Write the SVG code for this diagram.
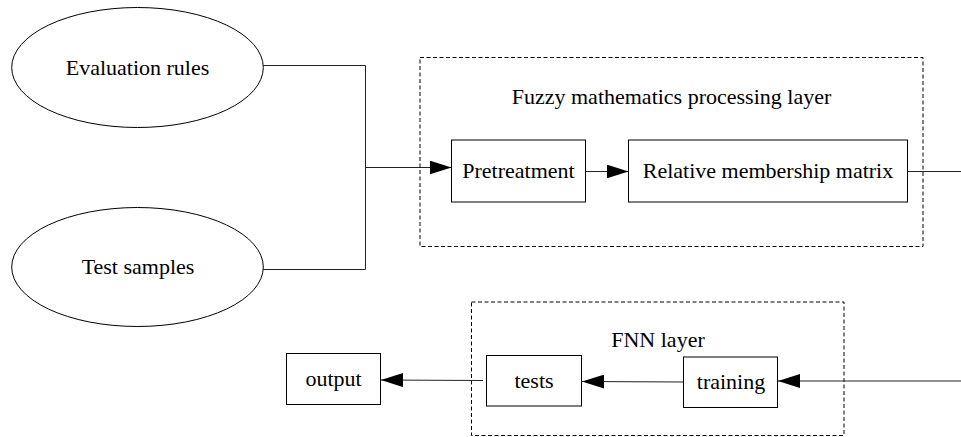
<svg xmlns="http://www.w3.org/2000/svg" width="961" height="437" viewBox="0 0 961 437">
<style>
  .node { fill: #fff; stroke: #000; stroke-width: 1; }
  .layer { fill: none; stroke: #000; stroke-width: 1; stroke-dasharray: 4 2.5; }
  .lbl { font-family: "Liberation Serif", "Times New Roman", serif; font-size: 22px; fill: #000; text-anchor: middle; }
  .conn { fill: none; stroke: #222; stroke-width: 1; }
  .arr { fill: none; stroke: #222; stroke-width: 1; marker-end: url(#ah); }
</style>
<defs>
  <marker id="ah" markerUnits="userSpaceOnUse" markerWidth="22" markerHeight="14" refX="22" refY="7" orient="auto">
    <path d="M0,0 L22,7 L0,14 Z" fill="#000"/>
  </marker>
</defs>
<rect width="961" height="437" fill="#fff"/>

<g id="layer-fuzzy">
  <rect class="layer" x="420" y="57.5" width="503" height="189"/>
  <text class="lbl" x="671.5" y="104">Fuzzy mathematics processing layer</text>
</g>
<g id="layer-fnn">
  <rect class="layer" x="471.5" y="302" width="372.5" height="133.5"/>
  <text class="lbl" x="658" y="347.3">FNN layer</text>
</g>

<g id="connectors">
  <polyline class="conn" points="263.3,65.5 365.5,65.5 365.5,269.5 263.3,269.5"/>
  <line class="arr" x1="365.5" y1="167.5" x2="451.5" y2="167.5"/>
  <line class="arr" x1="585.5" y1="171.5" x2="628.5" y2="171.5"/>
  <line class="conn" x1="907.5" y1="171.5" x2="961" y2="171.5"/>
  <line class="arr" x1="961" y1="381" x2="778" y2="381"/>
  <line class="arr" x1="683.5" y1="382" x2="582" y2="381.5"/>
  <line class="arr" x1="483" y1="380.5" x2="381" y2="380"/>
</g>

<g id="node-evaluation-rules">
  <ellipse class="node" cx="137.5" cy="67.5" rx="125.8" ry="60"/>
  <text class="lbl" x="137.5" y="75">Evaluation rules</text>
</g>
<g id="node-test-samples">
  <ellipse class="node" cx="137.5" cy="267" rx="125.8" ry="59.5"/>
  <text class="lbl" x="138" y="273.5">Test samples</text>
</g>
<g id="node-pretreatment">
  <rect class="node" x="451.5" y="140" width="134" height="62"/>
  <text class="lbl" x="518.5" y="178.3">Pretreatment</text>
</g>
<g id="node-relative-membership-matrix">
  <rect class="node" x="628.5" y="140" width="279" height="62"/>
  <text class="lbl" x="768" y="178.3">Relative membership matrix</text>
</g>
<g id="node-training">
  <rect class="node" x="683.5" y="357" width="94" height="50.5"/>
  <text class="lbl" x="731" y="389.3">training</text>
</g>
<g id="node-tests">
  <rect class="node" x="486.5" y="355.5" width="95" height="50.5"/>
  <text class="lbl" x="534" y="388.3">tests</text>
</g>
<g id="node-output">
  <rect class="node" x="286.5" y="353.5" width="94" height="51"/>
  <text class="lbl" x="333.5" y="385.7">output</text>
</g>
</svg>
